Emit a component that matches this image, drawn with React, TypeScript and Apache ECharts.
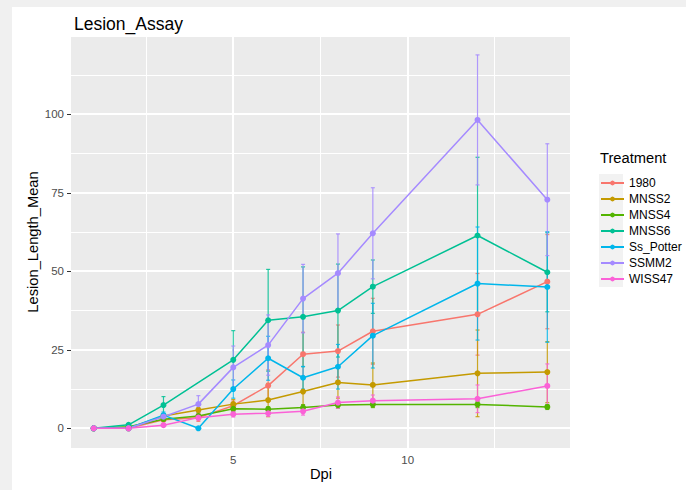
import React, { useEffect, useRef } from "react";
import * as echarts from "echarts";

const dpi = [1, 2, 3, 4, 5, 6, 7, 8, 9, 12, 14];
const treatmentNames = ["1980", "MNSS2", "MNSS4", "MNSS6", "Ss_Potter", "SSMM2", "WISS47"];
const treatmentColors = ["#F8766D", "#C49A00", "#53B400", "#00C094", "#00B6EB", "#A58AFF", "#FB61D7"];

const mean1980 = [0, 0, 2.7, 3.4, 7.2, 13.6, 23.6, 24.6, 30.9, 36.3, 46.7];
const se1980 = [0, 0, 0.5, 1.2, 1.5, 5, 7, 8.3, 10.5, 13, 15];
const meanMNSS2 = [0, 0, 3.9, 5.8, 7.7, 9.0, 11.7, 14.6, 13.8, 17.5, 17.9];
const seMNSS2 = [0, 0, 0.5, 0.8, 1.5, 5.3, 4.2, 5, 7, 13.8, 9.7];
const meanMNSS4 = [0, 0.5, 2.9, 3.9, 6.2, 6.1, 6.6, 7.4, 7.6, 7.6, 6.8];
const seMNSS4 = [0, 0.3, 0.5, 0.6, 0.8, 0.8, 0.9, 1, 1, 1, 0.8];
const meanMNSS6 = [0, 1.1, 7.4, null, 21.8, 34.4, 35.5, 37.5, 45.1, 61.4, 49.7];
const seMNSS6 = [0, 0.3, 2.7, null, 9.3, 16.2, 15.9, 14.8, 8.5, 24.9, 12.6];
const meanSsPotter = [0, 0, 4.2, 0, 12.5, 22.3, 16.1, 19.6, 29.5, 46.1, 45.0];
const seSsPotter = [0, 0, 1, 0, 2.9, 7, 3.6, 7.1, 10.3, 18, 17.6];
const meanSSMM2 = [0, 0, 3.7, 7.7, 19.4, 26.5, 41.3, 49.4, 62.1, 98.2, 72.8];
const seSSMM2 = [0, 0, 1, 2.7, 6.8, 9.6, 10.9, 12.5, 14.5, 20.7, 17.8];
const meanWISS47 = [0, 0, 1.0, 3.4, 4.5, 4.8, 5.4, 8.2, 8.8, 9.4, 13.5];
const seWISS47 = [0, 0, 0.3, 0.8, 0.9, 1, 1.2, 1.8, 1.8, 4.4, 7];

const allMeans = [mean1980, meanMNSS2, meanMNSS4, meanMNSS6, meanSsPotter, meanSSMM2, meanWISS47];
const allSe = [se1980, seMNSS2, seMNSS4, seMNSS6, seSsPotter, seSSMM2, seWISS47];

const xTicks = [5, 10];
const yTicks = [0, 25, 50, 75, 100];
const xMinor = [2.5, 7.5, 12.5];
const yMinor = [12.5, 37.5, 62.5, 87.5, 112.5];
const xRange = [0.35, 14.65];
const yRange = [-6.27, 124.6];

const FONT = "Liberation Sans, Arial, Helvetica, sans-serif";

export default function App() {
  const ref = useRef<HTMLDivElement>(null);
  useEffect(() => {
    if (!ref.current) return;
    const chart = echarts.init(ref.current, null, { renderer: "svg" });

    // each gridline: [x1, y1, x2, y2, lineWidth]
    const gridData: number[][] = [];
    yMinor.forEach((v) => gridData.push([xRange[0], v, xRange[1], v, 1]));
    xMinor.forEach((v) => gridData.push([v, yRange[0], v, yRange[1], 1]));
    yTicks.forEach((v) => gridData.push([xRange[0], v, xRange[1], v, 2]));
    xTicks.forEach((v) => gridData.push([v, yRange[0], v, yRange[1], 2]));

    const gridSeries = {
      type: "custom",
      silent: true,
      z: 1,
      data: gridData,
      dimensions: ["x1", "y1", "x2", "y2", "w"],
      encode: { x: [0, 2], y: [1, 3] },
      renderItem: (params: any, api: any) => {
        const a = api.coord([api.value(0), api.value(1)]);
        const b = api.coord([api.value(2), api.value(3)]);
        const w = api.value(4);
        const snap = (p: number) => (w === 1 ? Math.round(p - 0.5) + 0.5 : Math.round(p));
        const horizontal = Math.abs(a[1] - b[1]) < 0.01;
        const shape = horizontal
          ? { x1: a[0], y1: snap(a[1]), x2: b[0], y2: snap(b[1]) }
          : { x1: snap(a[0]), y1: a[1], x2: snap(b[0]), y2: b[1] };
        return {
          type: "line",
          shape,
          style: { stroke: "#FFFFFF", lineWidth: w },
        };
      },
    };

    const errorSeries = treatmentNames.map((name, k) => {
      const color = treatmentColors[k];
      const data: number[][] = [];
      dpi.forEach((d, i) => {
        const m = allMeans[k][i];
        const s = allSe[k][i];
        if (m !== null && s !== null) data.push([d, m, s]);
      });
      return {
        type: "custom",
        silent: true,
        z: 2,
        data,
        renderItem: (params: any, api: any) => {
          const x = api.value(0);
          const m = api.value(1);
          const s = api.value(2);
          const top = api.coord([x, m + s]);
          const bot = api.coord([x, m - s]);
          const w = 2;
          const style = { stroke: color, lineWidth: 1.2, opacity: 0.85 };
          return {
            type: "group",
            children: [
              { type: "line", shape: { x1: top[0], y1: top[1], x2: bot[0], y2: bot[1] }, style },
              { type: "line", shape: { x1: top[0] - w, y1: top[1], x2: top[0] + w, y2: top[1] }, style },
              { type: "line", shape: { x1: bot[0] - w, y1: bot[1], x2: bot[0] + w, y2: bot[1] }, style },
            ],
          };
        },
      };
    });

    const lineSeries = treatmentNames.map((name, k) => {
      const data: number[][] = [];
      dpi.forEach((d, i) => {
        const m = allMeans[k][i];
        if (m !== null) data.push([d, m]);
      });
      return {
        type: "line",
        name,
        z: 3,
        data,
        symbol: "circle",
        symbolSize: 6,
        showSymbol: true,
        color: treatmentColors[k],
        itemStyle: { color: treatmentColors[k] },
        lineStyle: { color: treatmentColors[k], width: 1.5 },
        emphasis: { disabled: true },
      };
    });

    chart.setOption({
      animation: false,
      textStyle: { fontFamily: FONT },
      title: {
        text: "Lesion_Assay",
        left: 69,
        top: 10,
        textStyle: { fontSize: 17.5, fontWeight: "normal", color: "#000000", fontFamily: FONT },
      },
      grid: {
        left: 71,
        top: 37,
        width: 499,
        height: 411,
        show: false,
        containLabel: false,
      },
      xAxis: {
        type: "value",
        min: xRange[0],
        max: xRange[1],
        axisLine: { show: false },
        splitLine: { show: false },
        axisTick: { show: true, length: 4, customValues: xTicks, lineStyle: { color: "#333333", width: 1 } },
        axisLabel: {
          customValues: xTicks,
          color: "#4D4D4D",
          fontSize: 11.5,
          margin: 6,
          fontFamily: FONT,
        },
      },
      yAxis: {
        type: "value",
        min: yRange[0],
        max: yRange[1],
        axisLine: { show: false },
        splitLine: { show: false },
        axisTick: { show: true, length: 4, customValues: yTicks, lineStyle: { color: "#333333", width: 1 } },
        axisLabel: {
          customValues: yTicks,
          color: "#4D4D4D",
          fontSize: 11.5,
          margin: 7,
          fontFamily: FONT,
        },
      },
      legend: {
        data: treatmentNames,
        orient: "vertical",
        left: 600,
        top: 175,
        padding: 0,
        itemWidth: 23,
        itemHeight: 6,
        itemGap: 0,
        selectedMode: false,
        textStyle: { fontSize: 12, color: "#000000", lineHeight: 16, height: 16, fontFamily: FONT },
      },
      graphic: [
        {
          type: "text",
          x: 600,
          y: 158,
          style: { text: "Treatment", fontSize: 14.7, fill: "#000000", align: "left", verticalAlign: "middle", fontFamily: FONT },
        },
        {
          type: "text",
          x: 321,
          y: 474,
          style: { text: "Dpi", fontSize: 14.7, fill: "#000000", align: "center", verticalAlign: "middle", fontFamily: FONT },
        },
        {
          type: "text",
          x: 33,
          y: 242,
          rotation: Math.PI / 2,
          style: {
            text: "Lesion_Length_Mean",
            fontSize: 14.7,
            fill: "#000000",
            align: "center",
            verticalAlign: "middle",
            fontFamily: FONT,
          },
        },
      ],
      series: [gridSeries, ...errorSeries, ...lineSeries],
    });

    return () => {
      chart.dispose();
    };
  }, []);

  return (
    <div style={{ position: "fixed", left: 0, top: 0, width: 686, height: 490, background: "#F0F0F0" }}>
      <div style={{ position: "absolute", left: 12, top: 7, width: 674, height: 483, background: "#FFFFFF" }} />
      <div style={{ position: "absolute", left: 71, top: 37, width: 499, height: 411, background: "#EBEBEB" }} />
      <div style={{ position: "absolute", left: 599, top: 174, width: 24, height: 113, background: "#F2F2F2" }} />
      <div ref={ref} style={{ position: "absolute", left: 0, top: 0, width: 686, height: 490 }} />
    </div>
  );
}
